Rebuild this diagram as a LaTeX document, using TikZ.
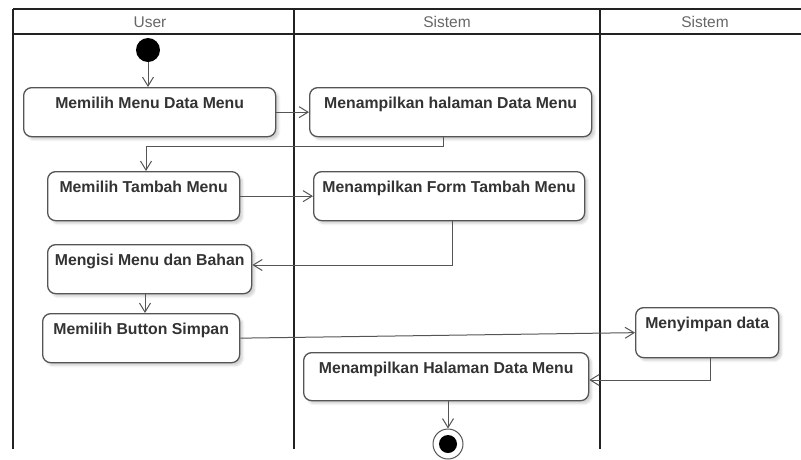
\documentclass[tikz,border=0pt]{standalone}
\usepackage{fontspec}
\setmainfont{Liberation Sans}
\usetikzlibrary{arrows.meta,shadows.blur}

\definecolor{boxline}{HTML}{555555}
\definecolor{boxtext}{HTML}{333333}
\definecolor{headtext}{HTML}{666666}
\definecolor{laneline}{HTML}{222222}

\tikzset{
  lane/.style={draw=laneline, line width=2pt},
  lanehead/.style={text=headtext, font=\fontsize{15.5}{18}\selectfont, inner sep=0pt},
  act/.style={draw=boxline, line width=1.3pt, rounded corners=8pt, fill=white,
    anchor=north west, inner xsep=0pt, inner ysep=0pt,
    text height=21pt, text depth=28pt, align=center, text=boxtext,
    font=\bfseries\fontsize{15.8}{18}\selectfont,
    blur shadow={shadow xshift=3pt, shadow yshift=-3pt, shadow blur steps=6, shadow opacity=18}},
  flow/.style={draw=boxline, line width=1pt, -{Straight Barb[length=9pt,width=11pt]}},
  initial/.style={circle, fill=black, minimum size=24pt, inner sep=0pt},
  final/.style={circle, draw=boxline, line width=1pt, fill=white, minimum size=30pt, inner sep=0pt,
    path picture={\fill[black] (path picture bounding box.center) circle (9pt);}}
}

\begin{document}
\begin{tikzpicture}[x=1pt, y=-1pt]
  \useasboundingbox (0,0) rectangle (801,459);

  % swimlane frame
  \draw[lane] (13,9) -- (801,9);
  \draw[lane] (13,34) -- (801,34);
  \draw[lane] (13,9) -- (13,449);
  \draw[lane] (294,9) -- (294,449);
  \draw[lane] (600,9) -- (600,449);

  \node[lanehead] (hUser) at (150,22) {User};
  \node[lanehead] (hSys1) at (447,22) {Sistem};
  \node[lanehead] (hSys2) at (705,22) {Sistem};

  % actions
  \node[initial] (start) at (148,50) {};
  \node[act, minimum width=252pt] (b1) at (23,87) {Memilih Menu Data Menu};
  \node[act, minimum width=282pt] (b2) at (309,87) {Menampilkan halaman Data Menu};
  \node[act, minimum width=192pt] (b3) at (47,171) {Memilih Tambah Menu};
  \node[act, minimum width=271pt] (b4) at (313,171) {Menampilkan Form Tambah Menu};
  \node[act, minimum width=204pt] (b5) at (47,244) {Mengisi Menu dan Bahan};
  \node[act, minimum width=197pt] (b6) at (42,313) {Memilih Button Simpan};
  \node[act, minimum width=143pt, text depth=29pt] (b7) at (635,307) {Menyimpan data};
  \node[act, minimum width=285pt, text depth=27pt] (b8) at (303,352) {Menampilkan Halaman Data Menu};
  \node[final] (end) at (448,444) {};

  % bends of the routed flows
  \coordinate (j1) at (443,146);
  \coordinate (j1b) at (146,146);
  \coordinate (j2) at (452,265);
  \coordinate (j3) at (710,380);
  \coordinate (j4) at (145,300);

  % control flow
  \draw[flow] (start) -- (start |- b1.north);
  \draw[flow] (b1.east) -- (b2.west);
  \draw[flow] (b2.south -| j1) -- (j1) -- (j1b) -- (j1b |- b3.north);
  \draw[flow] (b3.east) -- (b4.west);
  \draw[flow] (b4.south -| j2) -- (j2) -- (b5.east |- j2);
  \draw[flow] (b5.south -| j4) -- (b6.north -| j4);
  \draw[flow] (b6.east) -- (b7.west);
  \draw[flow] (b7.south -| j3) -- (j3) -- (b8.east |- j3);
  \draw[flow] (b8.south -| end) -- (end);
\end{tikzpicture}
\end{document}
